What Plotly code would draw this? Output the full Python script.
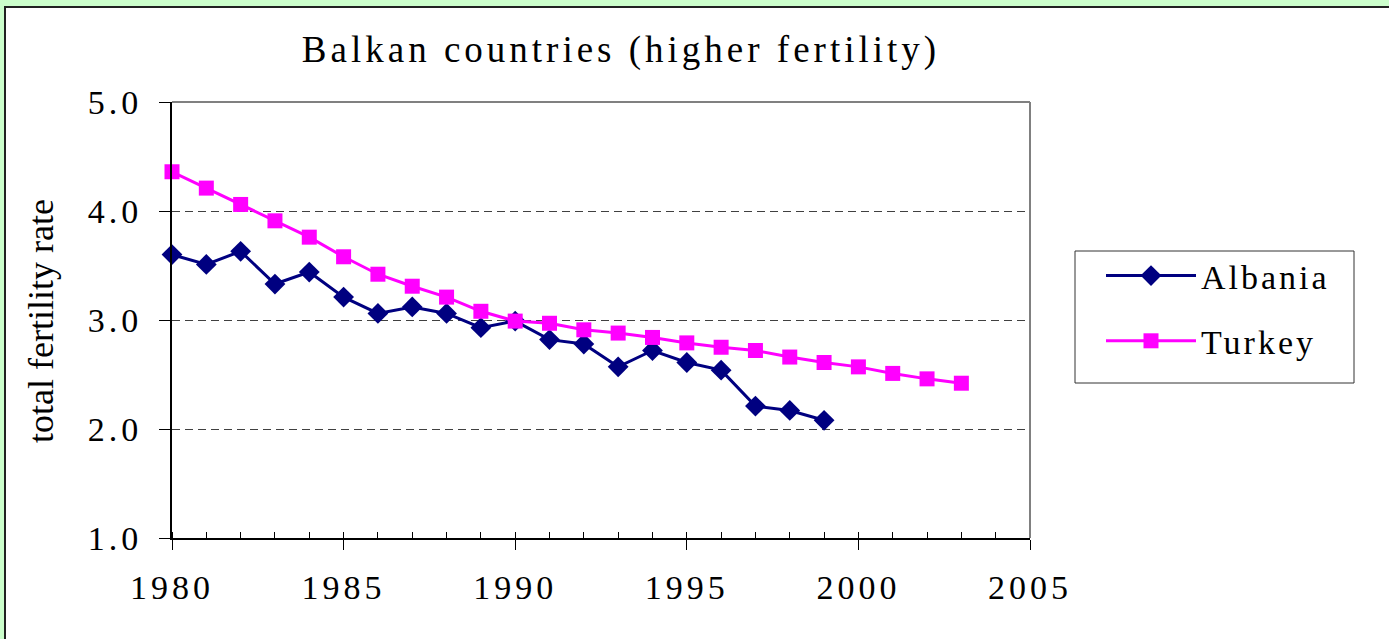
import plotly.graph_objects as go

years_albania = list(range(1980, 2000))
albania = [3.60, 3.51, 3.63, 3.33, 3.44, 3.21, 3.06, 3.12, 3.06, 2.93,
           2.99, 2.82, 2.78, 2.57, 2.72, 2.61, 2.54, 2.21, 2.17, 2.08]
years_turkey = list(range(1980, 2004))
turkey = [4.36, 4.21, 4.06, 3.91, 3.76, 3.58, 3.42, 3.31, 3.21, 3.08,
          2.99, 2.97, 2.91, 2.88, 2.84, 2.79, 2.75, 2.72, 2.66, 2.61,
          2.57, 2.51, 2.46, 2.42]
y_ticks = [1.0, 2.0, 3.0, 4.0, 5.0]
y_ticklabels = ["1.0", "2.0", "3.0", "4.0", "5.0"]
x_ticks = [1980, 1985, 1990, 1995, 2000, 2005]

SERIF = "Liberation Serif, Times New Roman, serif"
W, H = 1389, 639
L, R, T, B = 172, 1030, 102, 538

def px(xp):
    return (xp - L) / (R - L)

def py(yp):
    return (B - yp) / (B - T)

fig = go.Figure()
fig.add_trace(go.Scatter(
    x=years_albania, y=albania, name="Albania", mode="lines+markers",
    line=dict(color="#000080", width=3),
    marker=dict(symbol="diamond", size=16, color="#000080"),
    legendgroup="a", cliponaxis=False))
fig.add_trace(go.Scatter(
    x=years_turkey, y=turkey, name="Turkey", mode="lines+markers",
    line=dict(color="#FF00FF", width=3),
    marker=dict(symbol="square", size=15, color="#FF00FF"),
    legendgroup="t", cliponaxis=False))

shapes = [
    # outer white frame on green
    dict(type="rect", xref="paper", yref="paper", layer="below",
         x0=px(5), x1=px(W + 20), y0=py(7), y1=py(H + 20),
         fillcolor="white", line=dict(color="#222222", width=2)),
    # gray top and right border of plot area
    dict(type="line", xref="paper", yref="paper", layer="above",
         x0=0, x1=1, y0=1, y1=1, line=dict(color="#808080", width=2)),
    dict(type="line", xref="paper", yref="paper", layer="above",
         x0=1, x1=1, y0=0, y1=1, line=dict(color="#808080", width=2)),
    # legend box
    dict(type="rect", xref="paper", yref="paper", layer="below",
         x0=px(1075), x1=px(1354), y0=py(251), y1=py(383),
         fillcolor="white", line=dict(color="#333333", width=1)),
]

annotations = [
    dict(text="total fertility rate", xref="paper", yref="paper",
         x=px(41), y=py(321), textangle=-90, showarrow=False,
         xanchor="center", yanchor="middle",
         font=dict(family=SERIF, size=36, color="black")),
]

fig.update_layout(
    width=W, height=H,
    margin=dict(l=L, r=W - R, t=T, b=H - B),
    paper_bgcolor="#CCFFCC", plot_bgcolor="white",
    title=dict(text="Balkan countries (higher fertility)",
               x=621 / W, xref="container", xanchor="center",
               y=1 - 49 / H, yref="container", yanchor="middle",
               font=dict(family=SERIF, size=37, color="black")),
    xaxis=dict(range=[1980, 2005], tickvals=x_ticks,
               ticks="outside", ticklen=10, tickwidth=1, tickcolor="black",
               showline=True, linecolor="black", linewidth=2,
               showgrid=False, zeroline=False,
               minor=dict(dtick=1, ticks="inside", ticklen=6,
                          tickcolor="black", tickwidth=1, showgrid=False),
               tickfont=dict(family=SERIF, size=34, color="black"),
               ticklabelstandoff=8),
    yaxis=dict(range=[1.0, 5.0], tickvals=y_ticks, ticktext=y_ticklabels,
               ticks="outside", ticklen=11, tickwidth=1, tickcolor="black",
               showline=True, linecolor="black", linewidth=2,
               showgrid=True, gridcolor="#404040", griddash="8px,5px",
               gridwidth=1, zeroline=False,
               tickfont=dict(family=SERIF, size=34, color="black"),
               ticklabelstandoff=10),
    legend=dict(x=px(1101), y=py(247), xanchor="left", yanchor="top",
                bgcolor="rgba(0,0,0,0)", borderwidth=0,
                font=dict(family=SERIF, size=34, color="black"),
                itemwidth=90, tracegroupgap=18, traceorder="grouped"),
    showlegend=True,
    shapes=shapes, annotations=annotations,
)

post = """
document.body.style.margin = '0';
document.body.style.overflow = 'hidden';
var gd = document.getElementById('{plot_id}');
function spacing(sel, v) {
  gd.querySelectorAll(sel).forEach(function (e) { e.style.letterSpacing = v; });
}
spacing('.gtitle', '4px');
spacing('.xtick text', '4px');
spacing('.ytick text', '4px');
spacing('.legendtext', '3px');
gd.querySelectorAll('.legend [clip-path]').forEach(function (e) {
  e.removeAttribute('clip-path');
});
"""

fig.write_html("out.html", post_script=post,
               config={"displayModeBar": False})
